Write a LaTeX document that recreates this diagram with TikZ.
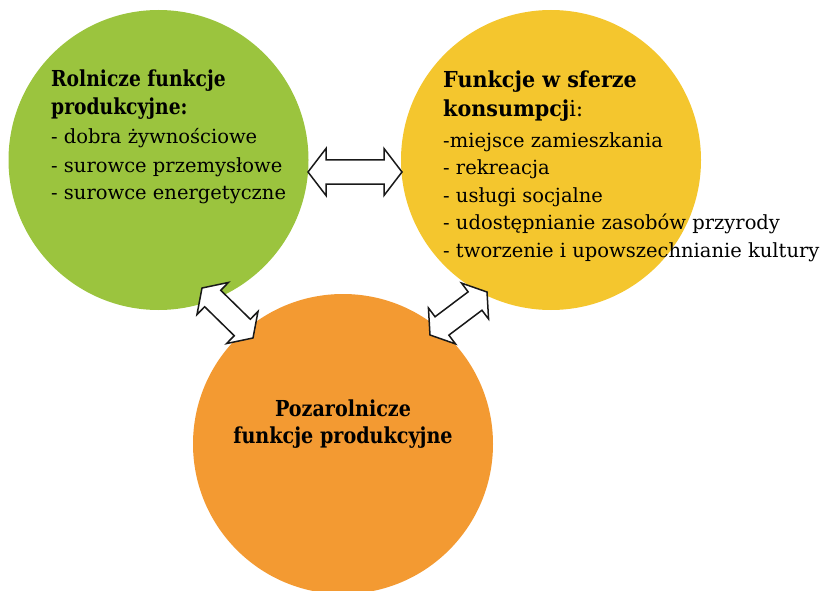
\documentclass[tikz,border=0pt]{standalone}
\usepackage{fontspec}
\usepackage{graphicx}
\setmainfont{DejaVu Serif}
\definecolor{cgreen}{RGB}{155,196,62}
\definecolor{cyellow}{RGB}{244,198,46}
\definecolor{corange}{RGB}{243,154,50}
\tikzset{
  bubble/.style={circle, minimum size=300pt, inner sep=0pt},
  body/.style={anchor=base west, inner sep=0pt, font=\fontsize{19.5}{22}\selectfont},
  head/.style={anchor=base west, inner sep=0pt, font=\fontsize{22}{25}\selectfont\bfseries},
  blockarrow/.style={draw=black!90, line width=1.5pt, fill=white, line join=miter}
}
\newcommand\hsq[2]{\scalebox{#1}[1]{#2}}
% \dblarrow{center}{angle}{half length}{head length}{head half width}{shaft half width}
\newcommand\dblarrow[6]{%
  \begin{scope}[shift={#1}, rotate=#2]
    \draw[blockarrow] (-#3,0) -- (-#3+#4,-#5) -- (-#3+#4,-#6) -- (#3-#4,-#6) -- (#3-#4,-#5)
      -- (#3,0) -- (#3-#4,#5) -- (#3-#4,#6) -- (-#3+#4,#6) -- (-#3+#4,#5) -- cycle;
  \end{scope}}
\begin{document}
\begin{tikzpicture}[x=1pt,y=-1pt]
\useasboundingbox (0,0) rectangle (822,591);
\node[bubble, fill=cgreen] (green) at (158.5,160) {};
\node[bubble, fill=cyellow] (yellow) at (551,160) {};
\node[bubble, fill=corange] (orange) at (343,444) {};

\dblarrow{(355,172)}{0}{47}{18}{23.5}{12}
\dblarrow{(227.5,313)}{-44.4}{35.7}{15}{22.5}{11.5}
\dblarrow{(458.5,313.5)}{37}{35.7}{15}{22.5}{11.5}

\node[head] (g1) at (51,87) {\hsq{0.85}{Rolnicze funkcje}};
\node[head] (g2) at (51,115) {\hsq{0.85}{produkcyjne:}};
\node[body] (g3) at (51,144) {- dobra żywnościowe};
\node[body] (g4) at (51,172) {- surowce przemysłowe};
\node[body] (g5) at (51,200) {- surowce energetyczne};

\node[head] (y1) at (443,88) {\hsq{0.94}{Funkcje w sferze}};
\node[head] (y2) at (443,117) {\hsq{0.94}{konsumpcj\mdseries i:}};
\node[body] (y3) at (443,147) {-miejsce zamieszkania};
\node[body] (y4) at (443,175) {- rekreacja};
\node[body] (y5) at (443,202) {- usługi socjalne};
\node[body] (y6) at (443,229) {- udostępnianie zasobów przyrody};
\node[body] (y7) at (443,257) {- tworzenie i upowszechnianie kultury};

\node[head, anchor=base] (o1) at (343,416) {\hsq{0.87}{Pozarolnicze}};
\node[head, anchor=base] (o2) at (343,443) {\hsq{0.87}{funkcje produkcyjne}};
\end{tikzpicture}
\end{document}
